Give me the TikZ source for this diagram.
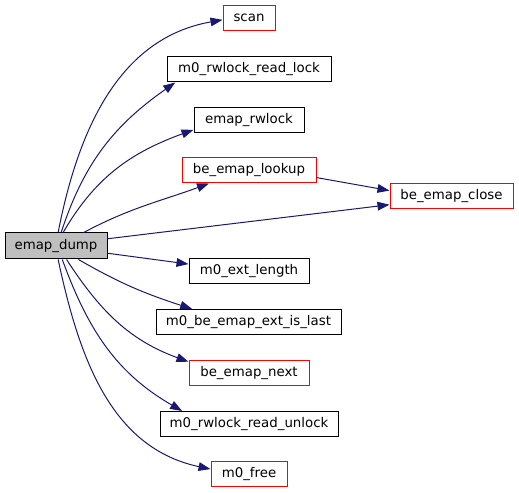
\documentclass[tikz,border=0pt]{standalone}
\usepackage{fontspec}
\setmainfont{DejaVu Sans}
\usepackage{tikz}
\usetikzlibrary{arrows.meta,calc}
\definecolor{dxblue}{RGB}{25,25,112}
\definecolor{dxred}{RGB}{255,0,0}
\definecolor{dxgray}{RGB}{191,191,191}

\begin{document}
\begin{tikzpicture}[x=0.75pt,y=0.75pt,
  fn/.style={draw=black, line width=0.75pt, inner sep=0pt, minimum height=18.75pt, font=\fontsize{10}{12}\selectfont},
  fnred/.style={fn, draw=dxred},
  call/.style={draw=dxblue, line width=0.75pt, -{Triangle[length=9pt,width=6.5pt]}}
]
\useasboundingbox (0,0) rectangle (519,493);

% caller
\node[fn, fill=dxgray, minimum width=76.5pt, minimum height=19.5pt] (dump) at (56,247) {emap\_dump};

% callees
\node[fnred, minimum width=39pt] (scan) at (249,475) {scan};
\node[fn, minimum width=123pt] (rdlock) at (249,423.5) {m0\_rwlock\_read\_lock};
\node[fn, minimum width=82.5pt] (rwlock) at (249,373) {emap\_rwlock};
\node[fnred, minimum width=100.5pt] (lookup) at (249,322.5) {be\_emap\_lookup};
\node[fnred, minimum width=92.25pt] (close) at (451.5,297) {be\_emap\_close};
\node[fn, minimum width=90pt] (extlen) at (249,221.5) {m0\_ext\_length};
\node[fn, minimum width=138.75pt] (islast) at (248.5,171) {m0\_be\_emap\_ext\_is\_last};
\node[fnred, minimum width=90pt] (next) at (249,119.5) {be\_emap\_next};
\node[fn, minimum width=133.5pt] (unlock) at (249,69) {m0\_rwlock\_read\_unlock};
\node[fnred, minimum width=57pt] (free) at (249,18.5) {m0\_free};

% calls
\draw[call] (dump.81) to[out=79,in=190] (scan.184);
\draw[call] (dump.69) to[out=72,in=215] (rdlock.190);
\draw[call] (dump.62) to[out=60,in=200] (rwlock.190);
\draw[call] (dump.26) to[out=28,in=200] (lookup.198);
\draw[call] (lookup.354) -- (close.175);
\draw[call] (dump.8) -- (close.188);
\draw[call] (dump.352) -- (extlen.173);
\draw[call] (dump.329) to[out=-30,in=162] (islast.167);
\draw[call] (dump.308) to[out=-57,in=160] (next.169);
\draw[call] (dump.295) to[out=-70,in=150] (unlock.169);
\draw[call] (dump.279) to[out=-78,in=168] (free.172);
\end{tikzpicture}
\end{document}
